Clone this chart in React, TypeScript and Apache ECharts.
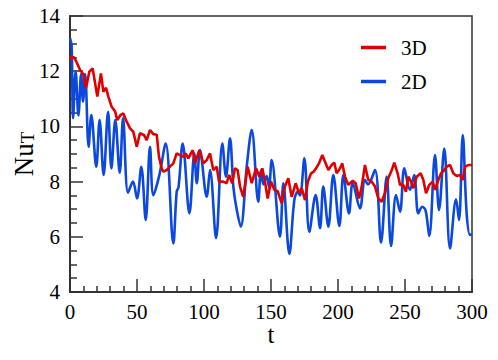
import React, { useEffect, useRef } from "react";
import * as echarts from "echarts";

const xTicks = [0, 50, 100, 150, 200, 250, 300];
const yTicks = [4, 6, 8, 10, 12, 14];

const t2D = [0, 1.2, 2.3, 4.2, 6.3, 8.3, 9.7, 11.3, 13.9, 15.9, 19.6, 22.1, 25.1, 28.4, 30.9, 33.8, 37.1, 39.6, 43.3, 47, 50, 53.2, 56.5, 59.7, 62.2, 66.5, 71.4, 77.1, 79.6, 81, 84.1, 89.1, 92.8, 94.6, 97, 102, 104.5, 109, 113.7, 116.4, 119.4, 121.9, 124, 127.4, 132, 135.6, 140.5, 142.5, 144.3, 146.8, 148.5, 150.5, 156.7, 159.2, 163.7, 167.4, 169.9, 171.6, 174.9, 178.6, 183.3, 186.6, 189, 192.8, 196.5, 201, 204, 208.2, 211, 216.4, 220.1, 222.4, 227.6, 232.1, 236.3, 239.6, 243.3, 246.3, 249.5, 253.7, 256.9, 259.9, 262.9, 265.4, 268.1, 272.4, 275.4, 279.3, 283.6, 288.1, 290.3, 293.1, 296, 298.5, 300];
const nu2D = [13.2, 12.9, 10.3, 12.0, 10.4, 11.9, 10.9, 11.9, 9.26, 10.41, 8.54, 10.23, 8.24, 10.53, 8.48, 10.23, 8.32, 10.29, 7.6, 8.0, 7.39, 8.54, 6.61, 9.26, 7.51, 8.2, 9.38, 5.76, 7.63, 7.8, 9.38, 6.85, 9.02, 7.94, 9.14, 7.45, 8.42, 5.95, 9.38, 8.18, 9.57, 7.82, 7.1, 6.37, 8.6, 9.87, 7.27, 8.4, 7.9, 8.2, 7.8, 8.78, 6.0, 7.94, 5.38, 7.33, 7.63, 7.5, 8.84, 6.18, 7.51, 6.31, 7.82, 6.37, 8.24, 6.39, 8.24, 6.85, 7.95, 7.03, 8.06, 7.9, 8.42, 5.79, 8.18, 5.67, 7.51, 6.91, 8.48, 7.7, 8.24, 6.85, 7.09, 6.95, 6.03, 8.96, 6.97, 9.2, 5.58, 7.36, 6.61, 9.69, 6.85, 6.07, 6.1];

const t3D = [0, 0.7, 3, 5.2, 7.5, 9.9, 11.9, 14.4, 16.9, 20.4, 23.1, 24.9, 26.9, 28.6, 31.1, 33.6, 35.3, 37.8, 39.8, 42.3, 44.8, 47.2, 49.8, 52.2, 55.2, 57.2, 59.7, 62.2, 64.7, 66.4, 68.4, 69.6, 72.2, 74.6, 77.1, 79.6, 82.1, 84.6, 86.3, 88.3, 91.6, 93.3, 96.5, 99.5, 102, 104.5, 106.9, 109.5, 111.2, 114.4, 116.9, 118.7, 121.1, 123.1, 125.1, 126.9, 129.3, 132.6, 135.6, 138.8, 141.3, 143.5, 145.5, 147.5, 150, 152.5, 155, 158, 160.4, 162.9, 165.4, 168.4, 170.9, 172.9, 175.4, 177.5, 179.9, 181.6, 183.6, 185.8, 188.3, 190.3, 192.8, 195.3, 197.2, 199, 201.5, 203.2, 205.2, 207.7, 211, 213.2, 215.7, 217.7, 220.1, 222.6, 225.1, 227.6, 230.1, 232.6, 235.1, 237.5, 240, 242, 244.5, 246.3, 248.7, 250.7, 252.5, 254.5, 256.2, 258.7, 261.7, 263.7, 265.7, 268.1, 270.7, 272.4, 274.9, 276.9, 279.3, 281.1, 283.6, 286, 288.6, 291, 293.1, 294.8, 297.2, 300];
const nu3D = [12.4, 12.5, 12.5, 12.3, 12.04, 11.9, 11.38, 11.98, 12.1, 11.08, 11.92, 11.25, 11.4, 11.08, 10.71, 10.55, 10.23, 10.42, 10.47, 10.17, 9.93, 9.81, 9.26, 9.75, 9.69, 9.5, 9.87, 9.72, 9.7, 8.9, 8.48, 8.36, 8.42, 8.54, 8.66, 9.02, 8.96, 8.9, 9.02, 8.84, 9.14, 8.66, 9.14, 8.66, 8.78, 9.02, 8.42, 8.54, 8.0, 8.0, 7.94, 8.24, 7.94, 8.48, 8.42, 7.82, 7.45, 8.54, 7.94, 8.48, 8.18, 8.48, 8.0, 7.39, 8.0, 7.7, 7.65, 7.21, 7.82, 8.12, 7.45, 7.94, 7.58, 7.76, 7.33, 8.0, 8.3, 8.35, 8.48, 8.66, 8.96, 8.72, 8.42, 8.6, 8.69, 8.3, 8.48, 8.66, 8.18, 7.88, 8.03, 7.94, 7.39, 7.82, 8.6, 8.06, 8.0, 7.82, 7.39, 7.27, 7.6, 8.12, 8.4, 8.69, 8.3, 7.88, 7.88, 7.63, 8.18, 8.0, 7.76, 8.18, 8.3, 8.06, 7.58, 7.88, 8.0, 7.7, 8.06, 8.3, 8.42, 8.54, 8.6, 8.3, 8.2, 8.24, 8.06, 8.54, 8.6, 8.6];

const FONT = "Times New Roman, Liberation Serif, serif";
const RED = "#e00000";
const BLUE = "#0a48e0";

export default function App() {
  const ref = useRef<HTMLDivElement>(null);
  useEffect(() => {
    const chart = echarts.init(ref.current!, null, { renderer: "svg" });
    chart.setOption({
      animation: false,
      backgroundColor: "#fff",
      textStyle: { fontFamily: FONT },
      grid: {
        left: 70, right: 26, top: 16, bottom: 68,
        outerBoundsMode: "none",
        containLabel: false,
        show: true, borderColor: "#333", borderWidth: 1.5,
      },
      legend: {
        orient: "vertical",
        left: 356, top: 32,
        data: ["3D", "2D"],
        icon: "rect",
        itemWidth: 25, itemHeight: 3.5,
        itemGap: 13,
        textStyle: { fontFamily: FONT, fontSize: 21, color: "#000", lineHeight: 20, padding: [0, 0, 0, 10] },
      },
      xAxis: {
        type: "value",
        min: xTicks[0], max: xTicks[xTicks.length - 1], interval: 50,
        name: "t", nameLocation: "middle", nameGap: 30, nameMoveOverlap: false,
        nameTextStyle: { fontFamily: FONT, fontSize: 25, color: "#000" },
        axisLine: { lineStyle: { color: "#333", width: 2 } },
        axisTick: { inside: true, length: 13, lineStyle: { color: "#333", width: 1.5 } },
        minorTick: { show: true, splitNumber: 5, length: 6, lineStyle: { color: "#333", width: 1.5 } },
        axisLabel: { fontFamily: FONT, fontSize: 21, color: "#000", margin: 9 },
        splitLine: { show: false },
      },
      yAxis: {
        type: "value",
        min: yTicks[0], max: yTicks[yTicks.length - 1], interval: 2,
        name: "{n|Nu}{s|T}", nameLocation: "middle", nameGap: 33, nameMoveOverlap: false,
        nameTextStyle: {
          fontFamily: FONT, color: "#000",
          rich: {
            n: { fontFamily: FONT, fontSize: 27, lineHeight: 27, padding: [0, 0, 6, 0], verticalAlign: "top", color: "#000" },
            s: { fontFamily: FONT, fontSize: 19, lineHeight: 19, verticalAlign: "bottom", color: "#000" },
          },
        },
        axisLine: { lineStyle: { color: "#333", width: 2 } },
        axisTick: { inside: true, length: 13, lineStyle: { color: "#333", width: 1.5 } },
        minorTick: { show: true, splitNumber: 4, length: 7, lineStyle: { color: "#333", width: 1.5 } },
        axisLabel: { fontFamily: FONT, fontSize: 21, color: "#000", margin: 10 },
        splitLine: { show: false },
      },
      series: [
        {
          name: "2D", type: "line", showSymbol: false, smooth: 0.35,
          data: t2D.map((t, i) => [t, nu2D[i]]),
          lineStyle: { color: BLUE, width: 2.6 }, itemStyle: { color: BLUE },
        },
        {
          name: "3D", type: "line", showSymbol: false,
          data: t3D.map((t, i) => [t, nu3D[i]]),
          lineStyle: { color: RED, width: 2.6 }, itemStyle: { color: RED },
        },
      ],
    });
    return () => chart.dispose();
  }, []);
  return <div ref={ref} style={{ width: 498, height: 360, position: "absolute", left: 0, top: 0 }} />;
}
